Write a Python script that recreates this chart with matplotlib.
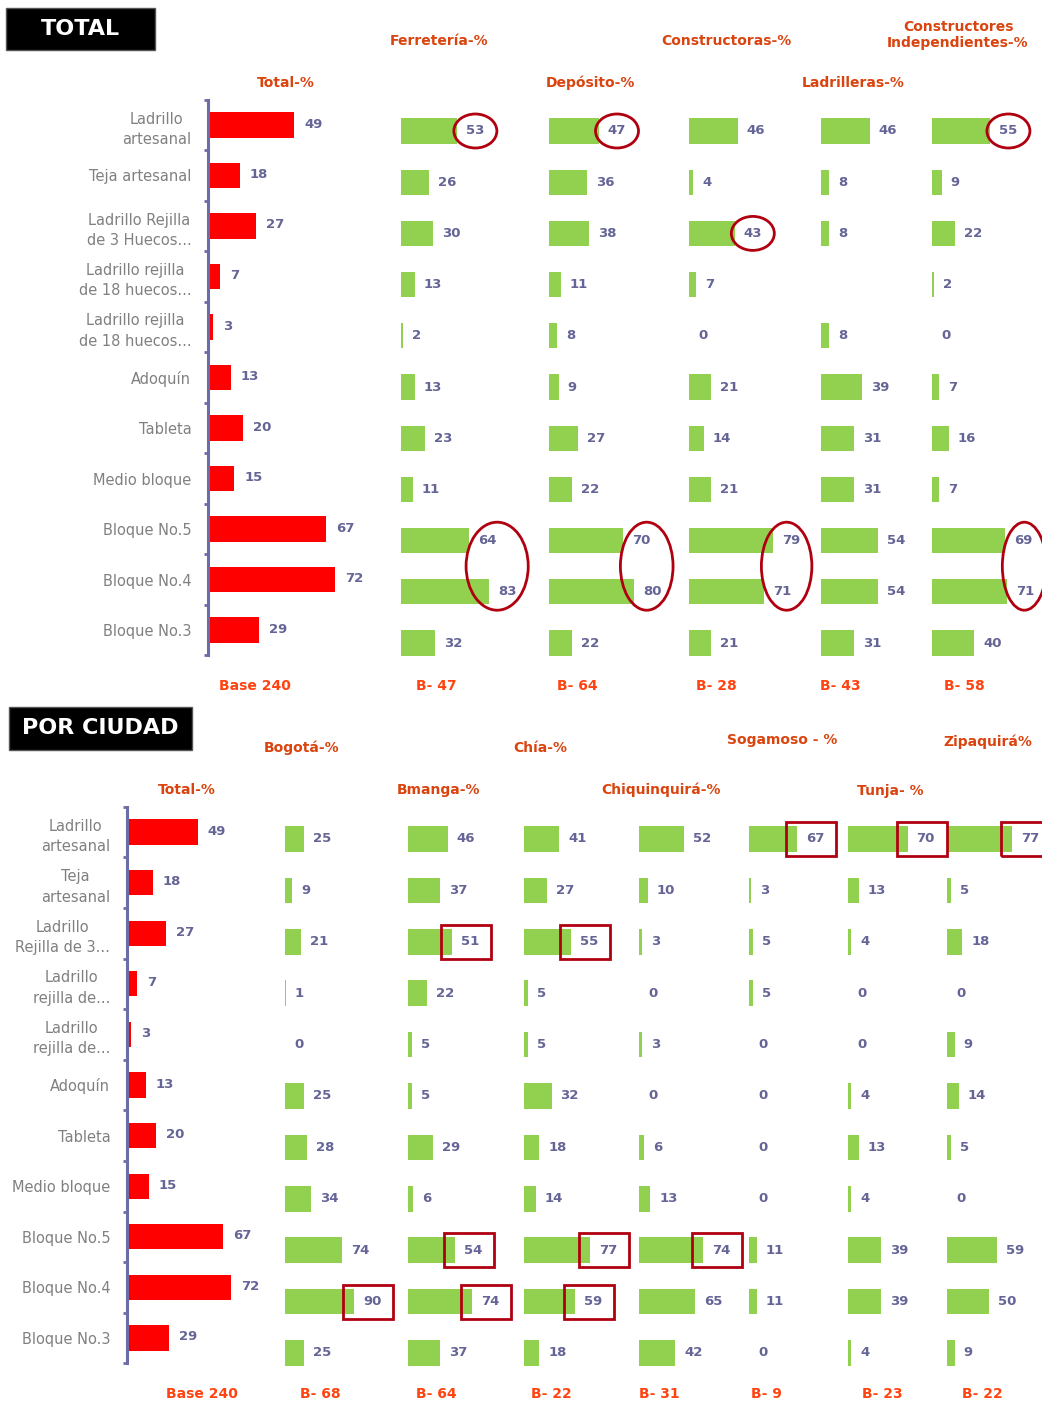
import matplotlib.pyplot as plt
import numpy as np
from matplotlib.patches import Rectangle, Ellipse
from matplotlib.transforms import IdentityTransform

# --- datos ---
cats_total = ["Ladrillo\nartesanal", "Teja artesanal", "Ladrillo Rejilla\nde 3 Huecos...",
              "Ladrillo rejilla\nde 18 huecos...", "Ladrillo rejilla\nde 18 huecos...",
              "Adoquín", "Tableta", "Medio bloque", "Bloque No.5", "Bloque No.4", "Bloque No.3"]
cats_ciudad = ["Ladrillo\nartesanal", "Teja\nartesanal", "Ladrillo\nRejilla de 3...",
               "Ladrillo\nrejilla de...", "Ladrillo\nrejilla de...",
               "Adoquín", "Tableta", "Medio bloque", "Bloque No.5", "Bloque No.4", "Bloque No.3"]

total_pct = [49, 18, 27, 7, 3, 13, 20, 15, 67, 72, 29]

ferreteria = [53, 26, 30, 13, 2, 13, 23, 11, 64, 83, 32]
deposito = [47, 36, 38, 11, 8, 9, 27, 22, 70, 80, 22]
constructoras = [46, 4, 43, 7, 0, 21, 14, 21, 79, 71, 21]
ladrilleras = [46, 8, 8, np.nan, 8, 39, 31, 31, 54, 54, 31]
const_indep = [55, 9, 22, 2, 0, 7, 16, 7, 69, 71, 40]

bogota = [25, 9, 21, 1, 0, 25, 28, 34, 74, 90, 25]
bmanga = [46, 37, 51, 22, 5, 5, 29, 6, 54, 74, 37]
chia = [41, 27, 55, 5, 5, 32, 18, 14, 77, 59, 18]
chiquinquira = [52, 10, 3, 0, 3, 0, 6, 13, 74, 65, 42]
sogamoso = [67, 3, 5, 5, 0, 0, 0, 0, 11, 11, 0]
tunja = [70, 13, 4, 0, 0, 4, 13, 4, 39, 39, 4]
zipaquira = [77, 5, 18, 0, 9, 14, 5, 0, 59, 50, 9]

# resaltados
circulos_total = {"ferreteria": [0], "deposito": [0], "constructoras": [2], "const_indep": [0]}
pares_total = {"ferreteria": (8, 9), "deposito": (8, 9), "constructoras": (8, 9), "const_indep": (8, 9)}
cajas_ciudad = {"bogota": [9], "bmanga": [2, 8, 9], "chia": [2, 8, 9], "chiquinquira": [8],
                "sogamoso": [0], "tunja": [0], "zipaquira": [0]}

# --- estilo ---
W, H = 1042, 1403
RED = "#FF0000"
GREEN = "#92D050"
VAL = "#646496"
HEAD = "#D9440F"
BASE = "#FF4411"
MARK = "#B00010"
AXC = "#6C6CA6"

fig = plt.figure(figsize=(W / 100, H / 100), dpi=100)
fig.patch.set_facecolor("white")


def px_axes(x, y, w, h):
    # coordenadas en pixeles medidas desde arriba
    return fig.add_axes([x / W, 1 - (y + h) / H, w / W, h / H])


def ftext(x, y, s, **kw):
    fig.text(x / W, 1 - y / H, s, ha="center", va="center", **kw)


def panel(x, y, h, scale, values, color, width=120, bar_h=0.49):
    ax = px_axes(x, y, width, h)
    vals = np.array(values, dtype=float)
    n = len(vals)
    ax.barh(np.arange(n), np.nan_to_num(vals), height=bar_h, color=color, edgecolor="none")
    ax.set_xlim(0, width / scale)
    ax.set_ylim(n - 0.5, -0.5)
    ax.axis("off")
    labels = {}
    for i, v in enumerate(vals):
        if np.isnan(v):
            continue
        labels[i] = ax.annotate(f"{v:.0f}", xy=(v, i), xytext=(9, 0), textcoords="offset pixels",
                                va="center", ha="left", color=VAL, fontsize=9.5,
                                fontweight="bold")
    return ax, labels


def total_panel(x, y, h, scale, cats):
    ax = px_axes(x, y, 170, h)
    n = len(total_pct)
    ax.barh(np.arange(n), total_pct, height=0.5, color=RED, edgecolor="none")
    ax.set_xlim(0, 170 / scale)
    ax.set_ylim(n - 0.5, -0.5)
    for s in ["top", "right", "bottom"]:
        ax.spines[s].set_visible(False)
    ax.spines["left"].set_color(AXC)
    ax.spines["left"].set_linewidth(2.2)
    ax.set_xticks([])
    ax.set_yticks(np.arange(n))
    ax.set_yticklabels(cats, fontsize=10.5, color="#808080")
    ax.set_yticks(np.arange(n + 1) - 0.5, minor=True)
    ax.tick_params(axis="y", which="major", length=0, pad=12)
    ax.tick_params(axis="y", which="minor", length=3, width=2, color=AXC, direction="out")
    for t in ax.get_yticklabels():
        t.set_multialignment("center")
        t.set_linespacing(1.45)
    for i, v in enumerate(total_pct):
        ax.annotate(f"{v}", xy=(v, i), xytext=(10, 1), textcoords="offset pixels",
                    va="center", ha="left", color=VAL, fontsize=9.5, fontweight="bold")
    return ax


def title_box(x, y, w, h, s):
    fig.patches.append(Rectangle((x / W, 1 - (y + h) / H), w / W, h / H, transform=fig.transFigure,
                                 facecolor="black", edgecolor="#555555", linewidth=1))
    ftext(x + w / 2, y + h / 2, s, color="white", fontsize=16, fontweight="bold")


# ---------- TOTAL ----------
title_box(6, 8, 149, 42, "TOTAL")
total_panel(208, 99.75, 555.5, 1.76, cats_total)

top_x = {"ferreteria": 401, "deposito": 549, "constructoras": 689, "ladrilleras": 821, "const_indep": 932}
top_vals = {"ferreteria": ferreteria, "deposito": deposito, "constructoras": constructoras,
            "ladrilleras": ladrilleras, "const_indep": const_indep}
top_panels = {}
for k in top_x:
    top_panels[k] = panel(top_x[k], 105.4, 563.2, 1.06, top_vals[k], GREEN, width=110)

ftext(286, 83, "Total-%", color=HEAD, fontsize=10, fontweight="bold")
ftext(439, 41, "Ferretería-%", color=HEAD, fontsize=10, fontweight="bold")
ftext(590, 83, "Depósito-%", color=HEAD, fontsize=10, fontweight="bold")
ftext(726, 41, "Constructoras-%", color=HEAD, fontsize=10, fontweight="bold")
ftext(853, 83, "Ladrilleras-%", color=HEAD, fontsize=10, fontweight="bold")
ftext(958, 35, "Constructores\nIndependientes-%", color=HEAD, fontsize=10, fontweight="bold",
      linespacing=1.25)

for xx, s in [(255, "Base 240"), (436, "B- 47"), (577, "B- 64"), (716, "B- 28"), (840, "B- 43"), (964, "B- 58")]:
    ftext(xx, 686, s, color=BASE, fontsize=10, fontweight="bold")

# ---------- POR CIUDAD ----------
title_box(9, 707, 183, 43, "POR CIUDAD")
total_panel(127, 806.7, 556.6, 1.44, cats_ciudad)

city_x = {"bogota": (285, 0.77), "bmanga": (408, 0.865), "chia": (524, 0.86),
          "chiquinquira": (639, 0.86), "sogamoso": (749, 0.72), "tunja": (848, 0.85),
          "zipaquira": (947, 0.84)}
city_vals = {"bogota": bogota, "bmanga": bmanga, "chia": chia, "chiquinquira": chiquinquira,
             "sogamoso": sogamoso, "tunja": tunja, "zipaquira": zipaquira}
city_panels = {}
for k, (xx, sc) in city_x.items():
    city_panels[k] = panel(xx, 813.3, 565.4, sc, city_vals[k], GREEN, width=100, bar_h=0.5)

for xx, yy, s in [(187, 790, "Total-%"), (302, 748, "Bogotá-%"), (438, 790, "Bmanga-%"),
                  (540, 748, "Chía-%"), (661, 790, "Chiquinquirá-%"), (782, 740, "Sogamoso - %"),
                  (890, 791, "Tunja- %"), (988, 742, "Zipaquirá%")]:
    ftext(xx, yy, s, color=HEAD, fontsize=10, fontweight="bold")

for xx, s in [(202, "Base 240"), (320, "B- 68"), (436, "B- 64"), (551, "B- 22"), (659, "B- 31"),
              (766, "B- 9"), (882, "B- 23"), (982, "B- 22")]:
    ftext(xx, 1394, s, color=BASE, fontsize=10, fontweight="bold")

# ---------- marcas (elipses y cajas) ----------
renderer = fig.canvas.get_renderer()


def label_center(lbl):
    bb = lbl.get_window_extent(renderer)
    return (bb.x0 + bb.x1) / 2, (bb.y0 + bb.y1) / 2


def row_y(ax, i):
    return ax.transData.transform((0, i))[1]


for k, idxs in circulos_total.items():
    ax, labels = top_panels[k]
    for i in idxs:
        cx, _ = label_center(labels[i])
        fig.patches.append(Ellipse((cx, row_y(ax, i)), 43, 34, transform=IdentityTransform(),
                                   fill=False, edgecolor=MARK, linewidth=2))

for k, (i, j) in pares_total.items():
    ax, labels = top_panels[k]
    x1, _ = label_center(labels[i])
    x2, _ = label_center(labels[j])
    cy = (row_y(ax, i) + row_y(ax, j)) / 2
    fig.patches.append(Ellipse(((x1 + x2) / 2, cy), 42 + abs(x2 - x1), 88,
                               transform=IdentityTransform(), fill=False, edgecolor=MARK,
                               linewidth=2))

for k, idxs in cajas_ciudad.items():
    ax, labels = city_panels[k]
    for i in idxs:
        cx, _ = label_center(labels[i])
        cy = row_y(ax, i)
        fig.patches.append(Rectangle((cx - 29, cy - 17), 50, 34, transform=IdentityTransform(),
                                     fill=False, edgecolor=MARK, linewidth=2))

fig.savefig("out.png", dpi=100, facecolor="white")
